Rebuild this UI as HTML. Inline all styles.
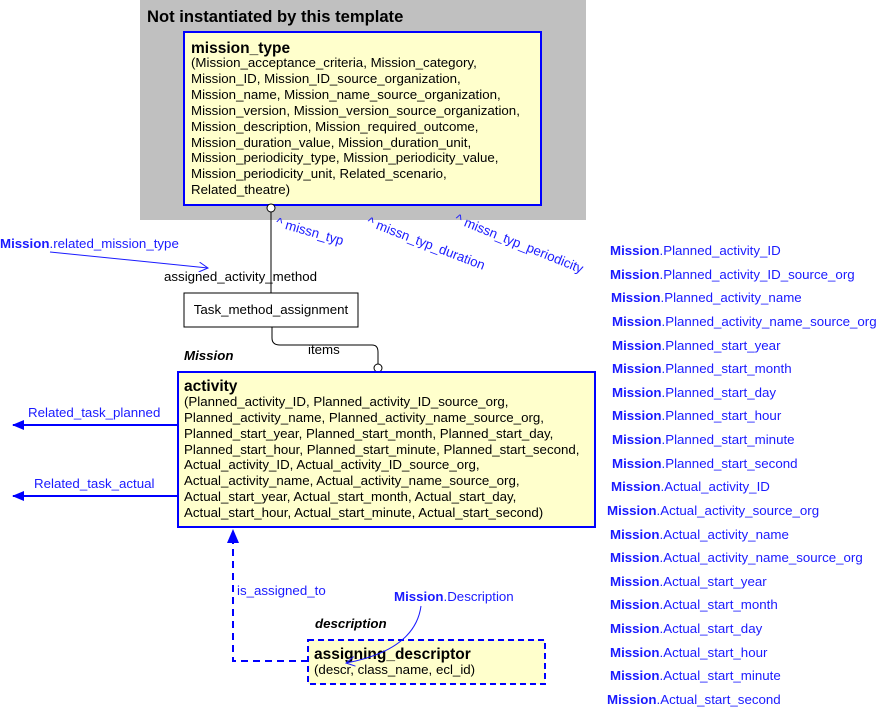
<!DOCTYPE html>
<html><head><meta charset="utf-8"><style>
html,body{margin:0;padding:0;background:#fff}
svg{display:block;font-family:"Liberation Sans",Arial,sans-serif}
.a{font-size:13.3px;fill:#000}
.b{font-size:13.3px;fill:#1a1aff}
.bb{font-weight:bold;fill:#1a1aff}
</style></head><body>
<svg width="877" height="708" viewBox="0 0 877 708" xmlns="http://www.w3.org/2000/svg">
<defs>
<marker id="fa" markerWidth="12" markerHeight="10" refX="11" refY="5" orient="auto" markerUnits="userSpaceOnUse"><path d="M0,0 L12,5 L0,10 Z" fill="#0000ff"/></marker>
<marker id="oa" markerWidth="10" markerHeight="10" refX="9" refY="5" orient="auto" markerUnits="userSpaceOnUse"><path d="M0,0 L9,5 L0,10" fill="none" stroke="#1a1aff" stroke-width="1"/></marker>
</defs>
<rect x="140" y="0" width="446" height="220" fill="#c0c0c0"/>
<text x="147" y="22" font-size="16.6" font-weight="bold">Not instantiated by this template</text>
<rect x="184" y="32" width="357" height="173" fill="#ffffcc" stroke="#0000ff" stroke-width="2"/>
<text x="191" y="53" font-size="15.5" font-weight="bold">mission_type</text>
<g class="a">
<text x="191" y="67">(Mission_acceptance_criteria, Mission_category,</text>
<text x="191" y="83">Mission_ID, Mission_ID_source_organization,</text>
<text x="191" y="99">Mission_name, Mission_name_source_organization,</text>
<text x="191" y="115">Mission_version, Mission_version_source_organization,</text>
<text x="191" y="131">Mission_description, Mission_required_outcome,</text>
<text x="191" y="147">Mission_duration_value, Mission_duration_unit,</text>
<text x="191" y="162">Mission_periodicity_type, Mission_periodicity_value,</text>
<text x="191" y="178">Mission_periodicity_unit, Related_scenario,</text>
<text x="191" y="194">Related_theatre)</text>
</g>
<line x1="271" y1="212" x2="271" y2="293" stroke="#000"/>
<circle cx="271" cy="208" r="4" fill="#fff" stroke="#000"/>
<text class="a" x="164" y="281">assigned_activity_method</text>
<rect x="184" y="293" width="174" height="34" fill="#fff" stroke="#000"/>
<text class="a" x="271" y="314" text-anchor="middle">Task_method_assignment</text>
<path d="M272,327 V338 Q272,345 280,345 H372 Q378,345 378,352 V364" fill="none" stroke="#000"/>
<circle cx="378" cy="368" r="4" fill="#fff" stroke="#000"/>
<text class="a" x="308" y="354">items</text>
<text x="184" y="360" font-size="13.3" font-weight="bold" font-style="italic">Mission</text>
<g class="b">
<text transform="translate(275,226) rotate(16)">^ missn_typ</text>
<text transform="translate(366,225) rotate(21)">^ missn_typ_duration</text>
<text transform="translate(454,222) rotate(22)">^ missn_typ_periodicity</text>
<text x="0" y="248"><tspan class="bb">Mission</tspan>.related_mission_type</text>
</g>
<line x1="50" y1="252" x2="208" y2="268" stroke="#1a1aff" marker-end="url(#oa)"/>
<rect x="178" y="372" width="417" height="155" fill="#ffffcc" stroke="#0000ff" stroke-width="2"/>
<text x="184" y="391" font-size="15.5" font-weight="bold">activity</text>
<g class="a">
<text x="184" y="406">(Planned_activity_ID, Planned_activity_ID_source_org,</text>
<text x="184" y="422">Planned_activity_name, Planned_activity_name_source_org,</text>
<text x="184" y="438">Planned_start_year, Planned_start_month, Planned_start_day,</text>
<text x="184" y="454">Planned_start_hour, Planned_start_minute, Planned_start_second,</text>
<text x="184" y="469">Actual_activity_ID, Actual_activity_ID_source_org,</text>
<text x="184" y="485">Actual_activity_name, Actual_activity_name_source_org,</text>
<text x="184" y="501">Actual_start_year, Actual_start_month, Actual_start_day,</text>
<text x="184" y="517">Actual_start_hour, Actual_start_minute, Actual_start_second)</text>
</g>
<line x1="178" y1="425" x2="13" y2="425" stroke="#0000ff" stroke-width="2" marker-end="url(#fa)"/>
<line x1="178" y1="496" x2="13" y2="496" stroke="#0000ff" stroke-width="2" marker-end="url(#fa)"/>
<text class="b" x="28" y="417">Related_task_planned</text>
<text class="b" x="34" y="488">Related_task_actual</text>
<path d="M308,661 H233 V541" fill="none" stroke="#0000ff" stroke-width="2" stroke-dasharray="7,5"/>
<path d="M233,529 L239,543 L227,543 Z" fill="#0000ff"/>
<text class="b" x="237" y="595">is_assigned_to</text>
<rect x="308" y="640" width="237" height="44" fill="#ffffcc" stroke="#0000ff" stroke-width="2" stroke-dasharray="6,4"/>
<text x="314" y="659" font-size="15.5" font-weight="bold">assigning_descriptor</text>
<text class="a" x="314" y="674">(descr, class_name, ecl_id)</text>
<text x="315" y="628" font-size="13.3" font-weight="bold" font-style="italic">description</text>
<text class="b" x="394" y="601"><tspan class="bb">Mission</tspan>.Description</text>
<path d="M421,606 Q415,650 346,663" fill="none" stroke="#1a1aff" marker-end="url(#oa)"/>
<g class="b">
<text x="610" y="255"><tspan class="bb">Mission</tspan>.Planned_activity_ID</text>
<text x="610" y="279"><tspan class="bb">Mission</tspan>.Planned_activity_ID_source_org</text>
<text x="611" y="302"><tspan class="bb">Mission</tspan>.Planned_activity_name</text>
<text x="612" y="326"><tspan class="bb">Mission</tspan>.Planned_activity_name_source_org</text>
<text x="612" y="350"><tspan class="bb">Mission</tspan>.Planned_start_year</text>
<text x="612" y="373"><tspan class="bb">Mission</tspan>.Planned_start_month</text>
<text x="612" y="397"><tspan class="bb">Mission</tspan>.Planned_start_day</text>
<text x="612" y="420"><tspan class="bb">Mission</tspan>.Planned_start_hour</text>
<text x="612" y="444"><tspan class="bb">Mission</tspan>.Planned_start_minute</text>
<text x="612" y="468"><tspan class="bb">Mission</tspan>.Planned_start_second</text>
<text x="611" y="491"><tspan class="bb">Mission</tspan>.Actual_activity_ID</text>
<text x="607" y="515"><tspan class="bb">Mission</tspan>.Actual_activity_source_org</text>
<text x="610" y="539"><tspan class="bb">Mission</tspan>.Actual_activity_name</text>
<text x="610" y="562"><tspan class="bb">Mission</tspan>.Actual_activity_name_source_org</text>
<text x="610" y="586"><tspan class="bb">Mission</tspan>.Actual_start_year</text>
<text x="610" y="609"><tspan class="bb">Mission</tspan>.Actual_start_month</text>
<text x="610" y="633"><tspan class="bb">Mission</tspan>.Actual_start_day</text>
<text x="610" y="657"><tspan class="bb">Mission</tspan>.Actual_start_hour</text>
<text x="610" y="680"><tspan class="bb">Mission</tspan>.Actual_start_minute</text>
<text x="607" y="704"><tspan class="bb">Mission</tspan>.Actual_start_second</text>
</g>
</svg>
</body></html>
